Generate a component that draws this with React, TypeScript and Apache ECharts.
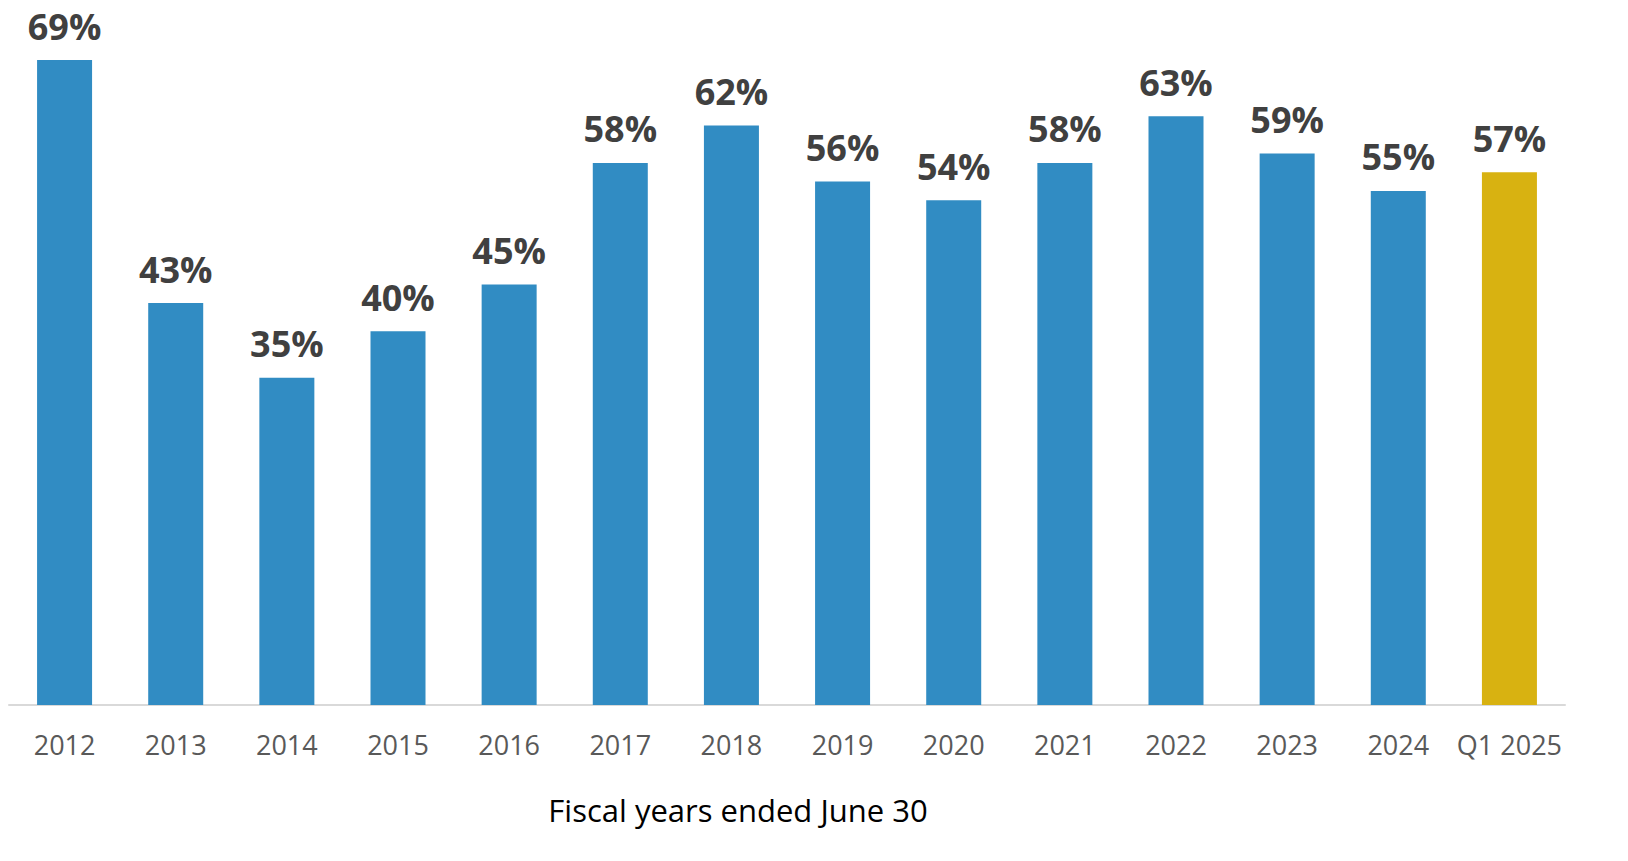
import React, { useEffect, useRef } from "react";
import * as echarts from "echarts";

const categories = ["2012","2013","2014","2015","2016","2017","2018","2019","2020","2021","2022","2023","2024","Q1 2025"];
const values = [69, 43, 35, 40, 45, 58, 62, 56, 54, 58, 63, 59, 55, 57];
const highlightIndex = 13;
const axisTitle = "Fiscal years ended June 30";

export default function App() {
  const ref = useRef<HTMLDivElement>(null);
  useEffect(() => {
    const chart = echarts.init(ref.current!, null, { renderer: "svg" });
    chart.setOption({
      animation: false,
      grid: { left: 9, right: 63, top: 4, bottom: 156 },
      xAxis: {
        type: "category",
        data: categories,
        axisLine: { lineStyle: { color: "#d9d9d9", width: 2 } },
        axisTick: { show: false },
        axisLabel: { fontFamily: "Open Sans", fontSize: 27, color: "#595959", margin: 26, interval: 0 },
      },
      yAxis: { type: "value", min: 0, max: 75, show: false, splitLine: { show: false } },
      graphic: [
        {
          type: "text",
          x: 738,
          y: 810,
          style: {
            text: axisTitle,
            fontFamily: "Open Sans",
            fontSize: 31,
            fill: "#000",
            align: "center",
            verticalAlign: "middle",
          },
        },
      ],
      series: [
        {
          type: "bar",
          barWidth: 55,
          data: values.map((v, i) => ({
            value: v,
            itemStyle: { color: i === highlightIndex ? "#D8B211" : "#318CC3" },
          })),
          label: {
            show: true,
            position: "top",
            distance: 16,
            formatter: "{c}%",
            fontFamily: "Open Sans",
            fontWeight: "bold",
            fontSize: 36,
            color: "#404040",
          },
        },
      ],
    });
    return () => chart.dispose();
  }, []);
  return <div ref={ref} style={{ position: "fixed", left: 0, top: 0, width: 1628, height: 861, background: "#fff" }} />;
}
